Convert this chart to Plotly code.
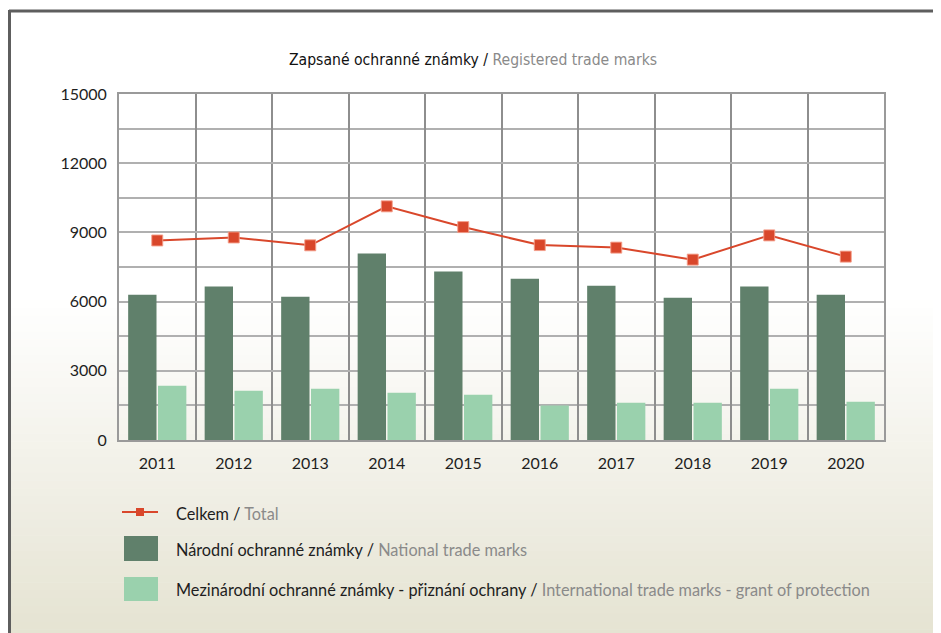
import plotly.graph_objects as go

years = ["2011", "2012", "2013", "2014", "2015", "2016", "2017", "2018", "2019", "2020"]
national = [6300, 6650, 6210, 8080, 7300, 6990, 6690, 6170, 6650, 6300]
international = [2350, 2140, 2220, 2050, 1960, 1500, 1620, 1620, 2220, 1660]
total = [8650, 8780, 8440, 10130, 9230, 8450, 8340, 7820, 8870, 7950]
y_ticks = [0, 3000, 6000, 9000, 12000, 15000]

title_cz = "Zapsané ochranné známky"
title_en = "Registered trade marks"
legend_items = [
    ("Celkem", "Total"),
    ("Národní ochranné známky", "National trade marks"),
    ("Mezinárodní ochranné známky - přiznání ochrany", "International trade marks - grant of protection"),
]

W, H = 941, 633
OFF = 8  # page body margin offset
L, R, T, B = 119 - OFF, 884 - OFF, 94 - OFF, 440 - OFF
FONT = "Lato"
TITLE_FONT = "DejaVu Sans Condensed, Lato"
DARK = "#60806b"
LIGHT = "#9ad1ad"
RED = "#d9472b"
GREY_TXT = "#8a8a8a"


def px(x):
    return (x - OFF - L) / (R - L)


def py(y):
    return (B - (y - OFF)) / (B - T)


fig = go.Figure()
fig.add_trace(go.Bar(x=years, y=national, marker=dict(color=DARK, line=dict(width=0)), name=legend_items[1][1]))
fig.add_trace(go.Bar(x=years, y=international, marker=dict(color=LIGHT, line=dict(width=0)), name=legend_items[2][1]))
fig.add_trace(go.Scatter(x=years, y=total, mode="lines+markers", name=legend_items[0][1],
                         line=dict(color=RED, width=2),
                         marker=dict(symbol="square", size=11, color=RED,
                                     line=dict(color="rgba(245,160,140,0.9)", width=1))))

shapes = []
top_c = (255, 255, 255)
mid_c = (244, 243, 236)
bot_c = (229, 227, 210)
y_start, y_mid, y_end = 300, 440, 645
n = 44
for i in range(n):
    y0 = y_start + (y_end - y_start) * i / n
    y1 = y_start + (y_end - y_start) * (i + 1) / n + 0.5
    yc = (y0 + y1) / 2
    if yc <= y_mid:
        t = (yc - y_start) / (y_mid - y_start)
        c = tuple(round(top_c[k] + (mid_c[k] - top_c[k]) * t) for k in range(3))
    else:
        t = min(1, (yc - y_mid) / (633 - y_mid))
        c = tuple(round(mid_c[k] + (bot_c[k] - mid_c[k]) * t) for k in range(3))
    shapes.append(dict(type="rect", xref="paper", yref="paper", x0=px(0), x1=px(W + 20),
                       y0=py(y1), y1=py(y0), fillcolor="rgb(%d,%d,%d)" % c,
                       line=dict(width=0), layer="below"))
shapes.append(dict(type="line", xref="paper", yref="paper", x0=px(9), x1=px(W + 20), y0=py(11), y1=py(11),
                   line=dict(color="#5e5e5e", width=3)))
shapes.append(dict(type="line", xref="paper", yref="paper", x0=px(9.5), x1=px(9.5), y0=py(10), y1=py(H + 20),
                   line=dict(color="#5e5e5e", width=3)))
shapes.append(dict(type="line", xref="paper", yref="paper", x0=px(122), x1=px(158), y0=py(512), y1=py(512),
                   line=dict(color=RED, width=2)))
shapes.append(dict(type="rect", xref="paper", yref="paper", x0=px(136), x1=px(144), y0=py(516), y1=py(508),
                   fillcolor=RED, line=dict(width=0)))
shapes.append(dict(type="rect", xref="paper", yref="paper", x0=px(124), x1=px(158), y0=py(561), y1=py(536),
                   fillcolor=DARK, line=dict(width=0)))
shapes.append(dict(type="rect", xref="paper", yref="paper", x0=px(124), x1=px(158), y0=py(601), y1=py(577),
                   fillcolor=LIGHT, line=dict(width=0)))

annotations = []
for (cz, en), yy in zip(legend_items, [513, 549, 589]):
    annotations.append(dict(xref="paper", yref="paper", x=px(174), y=py(yy), xanchor="left", yanchor="middle",
                            showarrow=False,
                            text="%s / <span style='color:%s'>%s</span>" % (cz, GREY_TXT, en),
                            font=dict(family=FONT, size=16.3, color="#1e1e1e")))
annotations.append(dict(xref="paper", yref="paper", x=px(473), y=py(60), xanchor="center", yanchor="middle",
                        showarrow=False,
                        text="%s / <span style='color:%s'>%s</span>" % (title_cz, GREY_TXT, title_en),
                        font=dict(family=TITLE_FONT, size=15.6, color="#111")))

fig.update_layout(
    width=W, height=H,
    margin=dict(l=L, r=W - R, t=T, b=H - B, pad=0),
    paper_bgcolor="white", plot_bgcolor="rgba(0,0,0,0)",
    showlegend=False,
    barmode="group", bargap=0.22, bargroupgap=0.05,
    shapes=shapes, annotations=annotations,
    xaxis=dict(type="category", range=[-0.5, 9.5], tickson="boundaries", showgrid=True,
               gridcolor="#8e8e8e", gridwidth=1.5,
               showline=True, mirror=True, linecolor="#9a9a9a", linewidth=2, ticks="",
               tickfont=dict(family=FONT, size=16, color="#1e1e1e"), ticklabelstandoff=8),
    yaxis=dict(range=[0, 15000], tickvals=y_ticks, ticktext=[str(v) for v in y_ticks],
               showgrid=True, gridcolor="#b0b0b0", gridwidth=2,
               minor=dict(dtick=1500, showgrid=True, gridcolor="#b0b0b0", gridwidth=2),
               showline=True, mirror=True, linecolor="#9a9a9a", linewidth=2, ticks="", zeroline=False,
               tickfont=dict(family=FONT, size=16, color="#1e1e1e"), ticklabelstandoff=7),
)

fig.write_html("out.html")
